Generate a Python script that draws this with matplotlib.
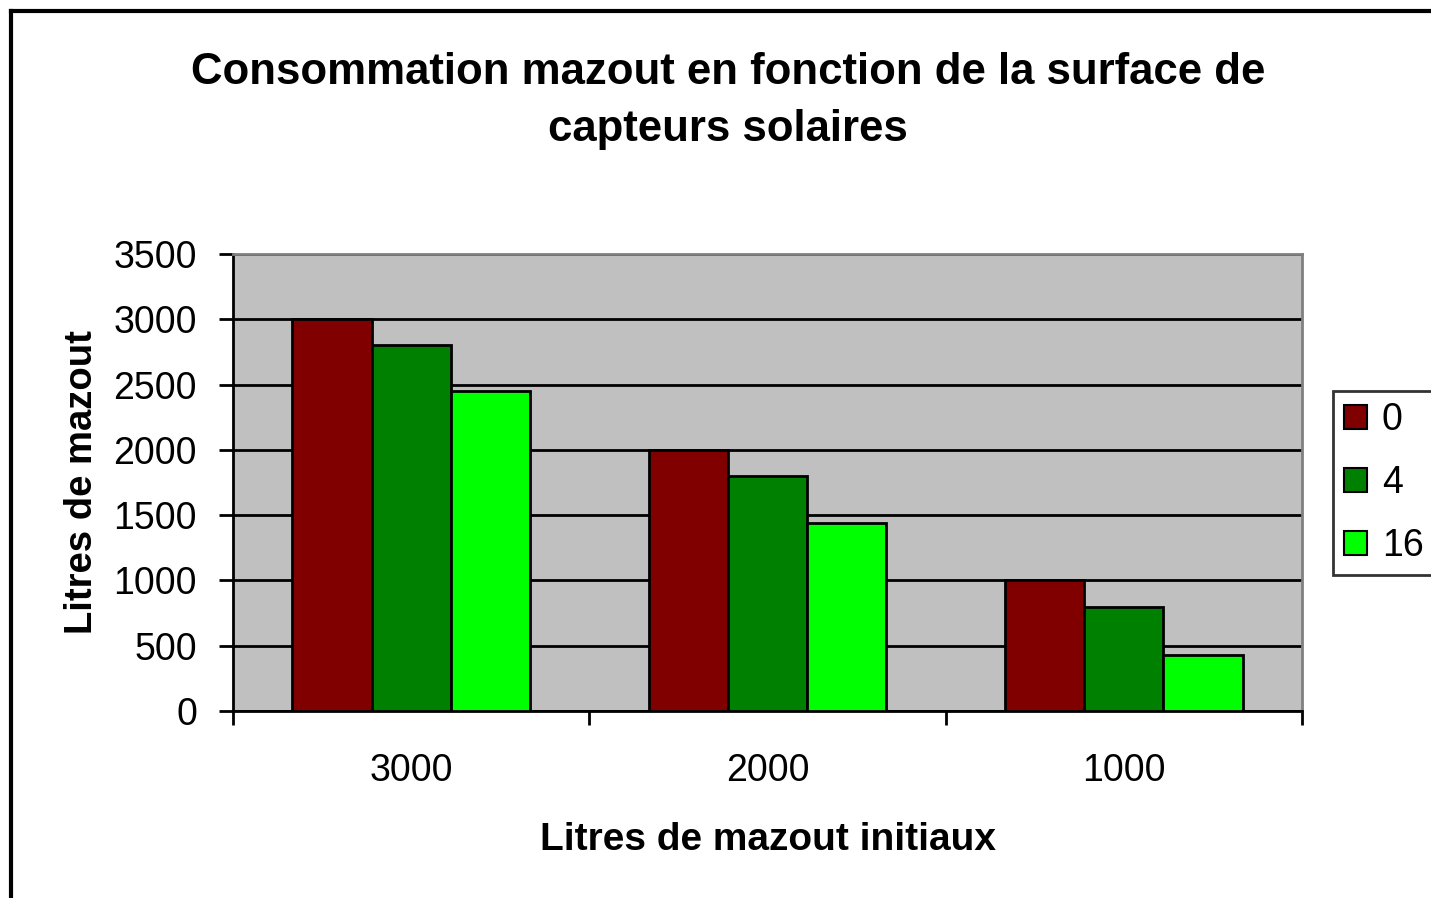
import numpy as np
import matplotlib
matplotlib.use('Agg')
import matplotlib.pyplot as plt
from matplotlib.lines import Line2D
from matplotlib.patches import Patch

plt.rcParams['font.family'] = ['Liberation Sans', 'DejaVu Sans']

categories = ['3000', '2000', '1000']
series_names = ['0', '4', '16']
values_0 = [3000, 2000, 1000]
values_4 = [2800, 1800, 800]
values_16 = [2450, 1440, 430]
colors = ['#800000', '#008000', '#00FF00']

W, H = 1431, 898
fig = plt.figure(figsize=(W / 100, H / 100), dpi=100)
ax = fig.add_axes([233 / W, 1 - 711 / H, (1302 - 233) / W, (711 - 254) / H])
ax.set_facecolor('#C0C0C0')

x = np.arange(len(categories))
bw = 1 / 1.5 / 3
for i, (vals, c, name) in enumerate(zip([values_0, values_4, values_16], colors, series_names)):
    ax.bar(x + (i - 1) * bw, vals, width=bw, color=c, edgecolor='black', linewidth=2, zorder=3, label=name)

ax.set_xlim(-0.5, 2.5)
ax.set_ylim(0, 3500)
ax.set_yticks(np.arange(0, 3501, 500))
ax.yaxis.grid(True, color='black', linewidth=2, zorder=1)
ax.set_axisbelow(True)

ax.set_xticks(x)
ax.set_xticklabels(categories, fontsize=27)
ax.set_xticks(np.arange(-0.5, 3, 1), minor=True)
ax.tick_params(axis='x', which='major', length=0, pad=30)
ax.tick_params(axis='x', which='minor', length=10, width=2, direction='out')
ax.tick_params(axis='y', labelsize=27, length=10, width=2, direction='out', pad=16)

for s in ['top', 'right']:
    ax.spines[s].set_color('#808080')
    ax.spines[s].set_linewidth(2)
for s in ['left', 'bottom']:
    ax.spines[s].set_color('black')
    ax.spines[s].set_linewidth(2)

ax.set_ylabel('Litres de mazout', fontsize=27.5, fontweight='bold', labelpad=10)
ax.set_xlabel('Litres de mazout initiaux', fontsize=28, fontweight='bold', labelpad=24)

fig.text(728 / W, 1 - 101 / H, 'Consommation mazout en fonction de la surface de\ncapteurs solaires',
         ha='center', va='center', fontsize=31.5, fontweight='bold', linespacing=1.5)

handles = [Patch(facecolor=c, edgecolor='black', linewidth=1.5) for c in colors]
leg = fig.legend(handles, series_names, loc='center left', bbox_to_anchor=(1333 / W, 1 - 483 / H),
                 fontsize=27, frameon=True, fancybox=False, edgecolor='black',
                 handlelength=0.6, handleheight=0.6, handletextpad=0.4, labelspacing=0.72,
                 borderpad=0.3, borderaxespad=0)
leg.get_frame().set_linewidth(2)

fig.add_artist(Line2D([11 / W, 11 / W], [0, 1 - 11 / H], color='black', linewidth=3, transform=fig.transFigure))
fig.add_artist(Line2D([11 / W, 1], [1 - 11 / H, 1 - 11 / H], color='black', linewidth=3, transform=fig.transFigure))

fig.savefig('out.png', dpi=100)
